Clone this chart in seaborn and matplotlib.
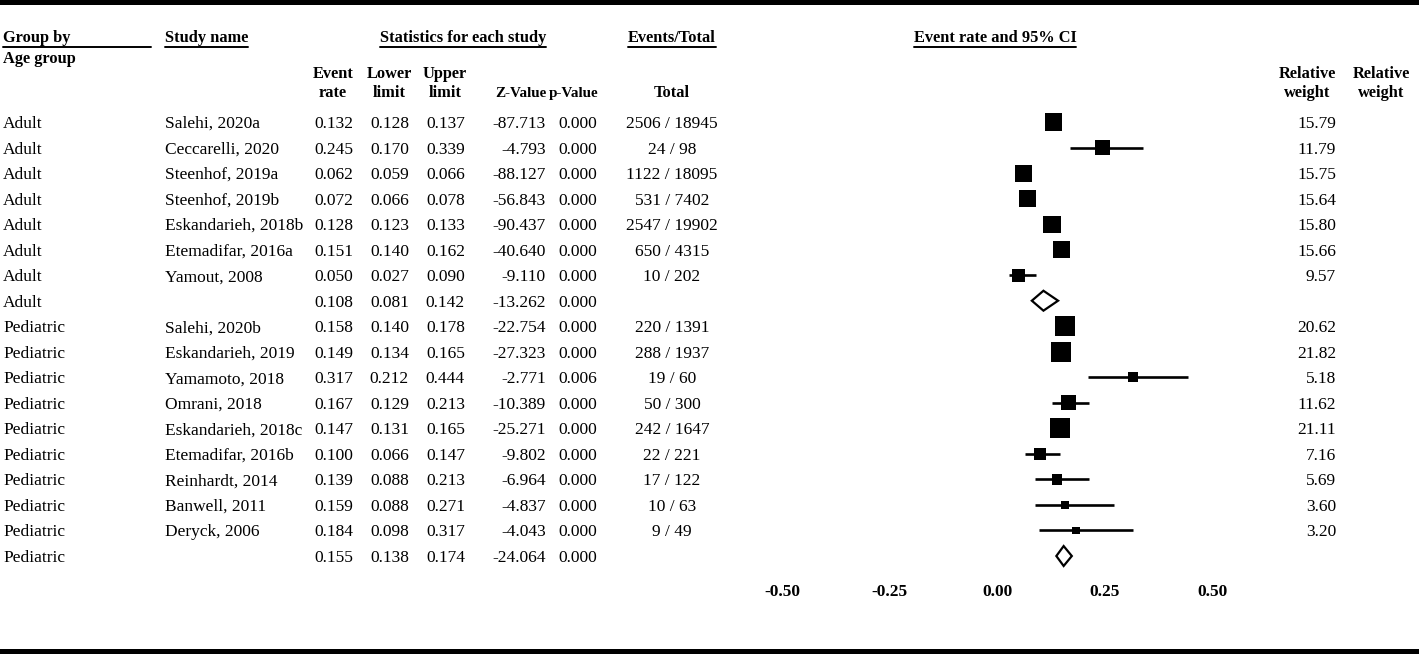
import matplotlib
matplotlib.use("Agg")
import matplotlib.pyplot as plt
from matplotlib.patches import Rectangle
from matplotlib.lines import Line2D
import pandas as pd
import seaborn as sns

# ---- data ----
groups = ["Adult"] * 8 + ["Pediatric"] * 10
studies = ["Salehi, 2020a", "Ceccarelli, 2020", "Steenhof, 2019a", "Steenhof, 2019b",
           "Eskandarieh, 2018b", "Etemadifar, 2016a", "Yamout, 2008", "",
           "Salehi, 2020b", "Eskandarieh, 2019", "Yamamoto, 2018", "Omrani, 2018",
           "Eskandarieh, 2018c", "Etemadifar, 2016b", "Reinhardt, 2014", "Banwell, 2011",
           "Deryck, 2006", ""]
event_rate = [0.132, 0.245, 0.062, 0.072, 0.128, 0.151, 0.050, 0.108,
              0.158, 0.149, 0.317, 0.167, 0.147, 0.100, 0.139, 0.159, 0.184, 0.155]
lower_limit = [0.128, 0.170, 0.059, 0.066, 0.123, 0.140, 0.027, 0.081,
               0.140, 0.134, 0.212, 0.129, 0.131, 0.066, 0.088, 0.088, 0.098, 0.138]
upper_limit = [0.137, 0.339, 0.066, 0.078, 0.133, 0.162, 0.090, 0.142,
               0.178, 0.165, 0.444, 0.213, 0.165, 0.147, 0.213, 0.271, 0.317, 0.174]
z_value = [-87.713, -4.793, -88.127, -56.843, -90.437, -40.640, -9.110, -13.262,
           -22.754, -27.323, -2.771, -10.389, -25.271, -9.802, -6.964, -4.837, -4.043, -24.064]
p_value = [0.000, 0.000, 0.000, 0.000, 0.000, 0.000, 0.000, 0.000,
           0.000, 0.000, 0.006, 0.000, 0.000, 0.000, 0.000, 0.000, 0.000, 0.000]
events_total = ["2506 / 18945", "24 / 98", "1122 / 18095", "531 / 7402", "2547 / 19902",
                "650 / 4315", "10 / 202", "",
                "220 / 1391", "288 / 1937", "19 / 60", "50 / 300", "242 / 1647",
                "22 / 221", "17 / 122", "10 / 63", "9 / 49", ""]
rel_weight = [15.79, 11.79, 15.75, 15.64, 15.80, 15.66, 9.57, None,
              20.62, 21.82, 5.18, 11.62, 21.11, 7.16, 5.69, 3.60, 3.20, None]
is_summary = [False] * 7 + [True] + [False] * 9 + [True]
xticks = [-0.50, -0.25, 0.00, 0.25, 0.50]

df = pd.DataFrame({
    "group": groups, "study": studies, "rate": event_rate, "lower": lower_limit,
    "upper": upper_limit, "z": z_value, "p": p_value, "events": events_total,
    "weight": rel_weight, "summary": is_summary,
})
df["row"] = range(len(df))

# ---- layout (pixels) ----
W, H = 1419, 654
ROW0, ROWH = 122, 25.53
FS = 12.5     # body text
FSB = 11.8    # bold headers

sns.set_style("white")
plt.rcParams["font.family"] = ["Liberation Serif", "DejaVu Serif"]
plt.rcParams["axes.unicode_minus"] = False
plt.rcParams["text.color"] = "black"
plt.rcParams["xtick.color"] = "black"

fig = plt.figure(figsize=(W / 100, H / 100), dpi=100)

TXT_DY = 2  # text sits a touch lower than its nominal centre


def fpos(x, y):
    return x / W, 1 - (y + TXT_DY) / H


def bpos(x, y):
    # baseline position, no offset
    return x / W, 1 - y / H


def row_y(i):
    return ROW0 + ROWH * i


# forest axes
ax_left, ax_right, ax_bottom = 700, 1290, 580
ax = fig.add_axes([ax_left / W, 1 - ax_bottom / H, (ax_right - ax_left) / W, ax_bottom / H])
zero_px, unit_px = 997, 430
ax.set_xlim((ax_left - zero_px) / unit_px, (ax_right - zero_px) / unit_px)
ax.set_ylim((ax_bottom - ROW0) / ROWH, -ROW0 / ROWH)

studies_df = df[~df["summary"]]
summ_df = df[df["summary"]]

ax.hlines(studies_df["row"], studies_df["lower"], studies_df["upper"],
          color="black", linewidth=1.9, zorder=2)
wmin, wmax = studies_df["weight"].min(), studies_df["weight"].max()
sns.scatterplot(data=studies_df, x="rate", y="row", size="weight",
                sizes=(9.6 * wmin, 9.6 * wmax), size_norm=(wmin, wmax),
                marker="s", color="black", edgecolor="black", linewidth=0,
                legend=False, ax=ax, zorder=3)
for _, r in summ_df.iterrows():
    h = 0.39
    ax.fill([r["lower"], r["rate"], r["upper"], r["rate"]],
            [r["row"], r["row"] - h, r["row"], r["row"] + h],
            facecolor="white", edgecolor="black", linewidth=1.6, zorder=3)

ax.set_xticks(xticks)
ax.set_xticklabels([f"{t:.2f}" for t in xticks], fontsize=FS, fontweight="bold")
ax.tick_params(axis="x", length=0, pad=3)
ax.set_yticks([])
ax.set_xlabel("")
ax.set_ylabel("")
for s in ax.spines.values():
    s.set_visible(False)
ax.patch.set_alpha(0)

# ---- headers ----
bold = dict(fontsize=FSB, fontweight="bold", va="center")
HEAD_Y = 36
underlined = []
underlined.append((fig.text(*fpos(3, HEAD_Y), "Group by", ha="left", **bold), 151))
underlined.append((fig.text(*fpos(165, HEAD_Y), "Study name", ha="left", **bold), None))
underlined.append((fig.text(*fpos(463, HEAD_Y), "Statistics for each study", ha="center", **bold), None))
underlined.append((fig.text(*fpos(672, HEAD_Y), "Events/Total", ha="center", **bold), None))
underlined.append((fig.text(*fpos(995, HEAD_Y), "Event rate and 95% CI", ha="center", **bold), None))
fig.text(*fpos(3, 57), "Age group", ha="left", **bold)

hb = dict(fontsize=FSB, fontweight="bold", va="baseline")
TOP_BASE, BOT_BASE = 78, 97
sub_headers = [(333, "Event", "rate"), (389, "Lower", "limit"), (445, "Upper", "limit"),
               (672, "", "Total"), (1307, "Relative", "weight"), (1381, "Relative", "weight")]
for x, top, bot in sub_headers:
    if top:
        fig.text(*bpos(x, TOP_BASE), top, ha="center", **hb)
    fig.text(*bpos(x, BOT_BASE), bot, ha="center", **hb)
narrow = dict(hb, fontsize=10.9)
fig.text(*bpos(546, BOT_BASE), "Z-Value", ha="right", **narrow)
fig.text(*bpos(598, BOT_BASE), "p-Value", ha="right", **narrow)

# ---- table body ----
reg = dict(fontsize=FS, va="center")
for i, r in df.iterrows():
    y = row_y(i)
    fig.text(*fpos(3, y), r["group"], ha="left", **reg)
    fig.text(*fpos(165, y), r["study"], ha="left", **reg)
    fig.text(*fpos(353, y), f"{r['rate']:.3f}", ha="right", **reg)
    fig.text(*fpos(409, y), f"{r['lower']:.3f}", ha="right", **reg)
    fig.text(*fpos(465, y), f"{r['upper']:.3f}", ha="right", **reg)
    fig.text(*fpos(546, y), f"{r['z']:.3f}", ha="right", **reg)
    fig.text(*fpos(597, y), f"{r['p']:.3f}", ha="right", **reg)
    if r["events"]:
        fig.text(*fpos(672, y), r["events"], ha="center", **reg)
    if pd.notna(r["weight"]):
        fig.text(*fpos(1336, y), f"{r['weight']:.2f}", ha="right", **reg)

# ---- underlines below headers ----
fig.canvas.draw()
renderer = fig.canvas.get_renderer()
for txt, x_end in underlined:
    bb = txt.get_window_extent(renderer)
    x0 = bb.x0
    x1 = x_end if x_end is not None else bb.x1
    yb = bb.y0 - 1
    fig.add_artist(Line2D([x0 / W, x1 / W], [yb / H, yb / H], transform=fig.transFigure,
                          color="black", linewidth=1.4))

# thick rules at top and bottom
fig.add_artist(Rectangle((0, 1 - 5 / H), 1, 5 / H, transform=fig.transFigure,
                         color="black", linewidth=0))
fig.add_artist(Rectangle((0, 0), 1, 5 / H, transform=fig.transFigure,
                         color="black", linewidth=0))

fig.savefig("out.png", dpi=100)
